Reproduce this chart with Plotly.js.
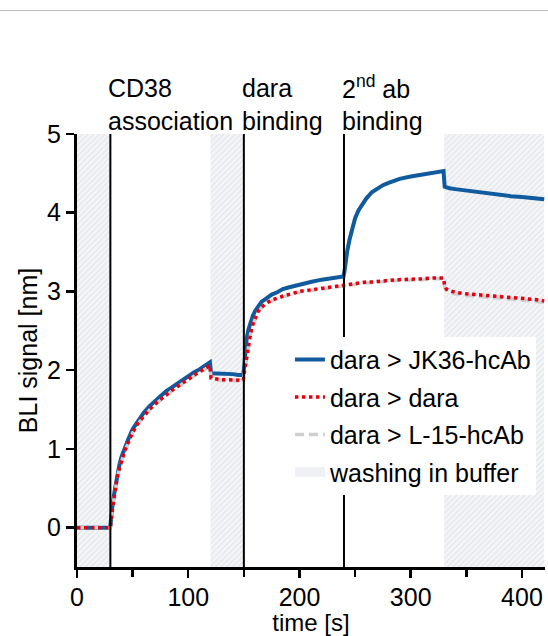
<!DOCTYPE html>
<html>
<head>
<meta charset="utf-8">
<script src="https://cdn.plot.ly/plotly-3.0.1.min.js"></script>
<style>
  html, body { margin: 0; padding: 0; background: #ffffff; }
  #chart { width: 548px; height: 636px; }
</style>
</head>
<body>
<div id="chart"></div>
<script>
// ---- data ----
const timeS = [0, 10, 20, 29.5, 30, 31, 32, 34, 36, 38, 40, 43, 46, 50, 55, 60, 65, 70, 75, 80, 85, 90, 95, 100, 105, 110, 115, 119.5,
  120.5, 125, 130, 135, 140, 145, 149.5,
  150.5, 151.5, 152.5, 154, 156, 158, 160, 163, 166, 170, 175, 180, 185, 190, 195, 200, 210, 220, 230, 239.5,
  240.5, 241.5, 243, 245, 247.5, 250, 253, 256, 260, 265, 270, 275, 280, 290, 300, 310, 320, 329.5,
  330.5, 332, 335, 340, 350, 360, 370, 380, 390, 400, 410, 420];

const jk36 = [0, 0, 0, 0, 0.02, 0.20, 0.30, 0.48, 0.68, 0.79, 0.90, 1.02, 1.12, 1.25, 1.36, 1.46, 1.54, 1.61, 1.67, 1.73, 1.78, 1.83, 1.88, 1.93, 1.97, 2.01, 2.06, 2.10,
  1.96, 1.96, 1.95, 1.95, 1.95, 1.94, 1.94,
  2.08, 2.28, 2.40, 2.51, 2.61, 2.69, 2.75, 2.82, 2.87, 2.91, 2.96, 2.99, 3.03, 3.05, 3.07, 3.09, 3.12, 3.15, 3.17, 3.19,
  3.26, 3.38, 3.52, 3.66, 3.82, 3.93, 4.03, 4.10, 4.18, 4.26, 4.31, 4.35, 4.38, 4.43, 4.46, 4.48, 4.50, 4.53,
  4.33, 4.32, 4.31, 4.30, 4.28, 4.26, 4.24, 4.22, 4.21, 4.20, 4.18, 4.17];

const daraDara = [0, 0, 0, -0.01, 0.00, 0.15, 0.26, 0.44, 0.63, 0.75, 0.86, 0.98, 1.08, 1.21, 1.33, 1.42, 1.50, 1.57, 1.63, 1.69, 1.74, 1.79, 1.84, 1.89, 1.93, 1.98, 2.02, 2.06,
  1.90, 1.89, 1.88, 1.88, 1.88, 1.87, 1.87,
  1.98, 2.08, 2.16, 2.27, 2.46, 2.58, 2.66, 2.75, 2.80, 2.85, 2.89, 2.92, 2.94, 2.96, 2.98, 3.00, 3.02, 3.04, 3.06, 3.08,
  3.08, 3.09, 3.09, 3.09, 3.10, 3.10, 3.11, 3.11, 3.12, 3.12, 3.13, 3.13, 3.14, 3.15, 3.15, 3.16, 3.17, 3.17,
  3.07, 3.03, 3.01, 2.99, 2.97, 2.96, 2.95, 2.94, 2.92, 2.91, 2.90, 2.88];

const daraL15 = [0, 0, 0, -0.01, 0.00, 0.15, 0.25, 0.43, 0.62, 0.74, 0.85, 0.97, 1.07, 1.20, 1.32, 1.41, 1.49, 1.56, 1.62, 1.68, 1.73, 1.78, 1.83, 1.88, 1.92, 1.97, 2.01, 2.05,
  1.89, 1.88, 1.87, 1.87, 1.87, 1.86, 1.86,
  1.97, 2.07, 2.15, 2.26, 2.45, 2.57, 2.65, 2.74, 2.79, 2.84, 2.88, 2.91, 2.93, 2.95, 2.97, 2.99, 3.01, 3.03, 3.05, 3.07,
  3.07, 3.08, 3.08, 3.08, 3.09, 3.09, 3.10, 3.10, 3.11, 3.11, 3.12, 3.12, 3.13, 3.14, 3.14, 3.15, 3.16, 3.16,
  3.05, 3.01, 2.99, 2.97, 2.95, 2.94, 2.93, 2.92, 2.90, 2.89, 2.88, 2.86];

const washStart = [0, 120, 330];
const washEnd = [30, 150, 420];

const phaseLines = [30, 150, 240];
const phaseLabels = ['CD38<br>association', 'dara<br>binding', '2<sup>nd</sup> ab<br>binding'];

const seriesNames = ['dara > JK36-hcAb', 'dara > dara', 'dara > L-15-hcAb', 'washing in buffer'];

const xTicks = [0, 100, 200, 300, 400];
const yTicks = [0, 1, 2, 3, 4, 5];
const xRange = [0, 420.7];
const yRange = [-0.5, 5];

// ---- figure ----
const FONT = 'Liberation Sans, Arial, Helvetica, sans-serif';
const FS = 25;
const washColor = '#eef0f3';

const traces = [
  {
    type: 'bar',
    x: washStart,
    width: washStart.map((s, i) => washEnd[i] - s),
    offset: 0,
    base: yRange[0],
    y: washStart.map(() => yRange[1] - yRange[0]),
    marker: {
      color: '#f3f4f7',
      line: { width: 0 },
      pattern: { shape: '/', bgcolor: '#f4f5f7', fgcolor: '#e2e5ea', size: 4, solidity: 0.3 }
    },
    showlegend: false,
    hoverinfo: 'skip'
  },
  {
    type: 'scatter', mode: 'lines', name: seriesNames[0], legendgroup: 'a', legendrank: 1,
    x: timeS, y: jk36,
    line: { color: '#105a9e', width: 4 }
  },
  {
    type: 'scatter', mode: 'lines', name: seriesNames[2], legendgroup: 'c', legendrank: 3,
    x: timeS, y: daraL15,
    line: { color: '#cfcfcf', width: 3.5, dash: '9px,5px' }
  },
  {
    type: 'scatter', mode: 'lines', name: seriesNames[1], legendgroup: 'b', legendrank: 2,
    x: timeS, y: daraDara,
    line: { color: '#e3000f', width: 3.5, dash: '3.5px,3.5px' }
  },
  {
    type: 'scatter', mode: 'lines', name: seriesNames[3], legendgroup: 'd', legendrank: 4,
    x: [null], y: [null],
    line: { color: washColor, width: 22 },
    hoverinfo: 'skip'
  }
];

const shapes = phaseLines.map(x => ({
  type: 'line', xref: 'x', yref: 'paper', x0: x, x1: x, y0: 0, y1: 1,
  line: { color: '#000000', width: 2 }
}));
shapes.push({
  type: 'line', xref: 'paper', yref: 'paper', x0: -0.17, x1: 1.01, y0: 1.2852, y1: 1.2852,
  line: { color: '#bdbdbd', width: 1.2 }
});

const annotations = phaseLines.map((x, i) => ({
  x: x, y: 1, xref: 'x', yref: 'paper', xanchor: 'left', yanchor: 'bottom',
  xshift: -4, yshift: -3,
  text: phaseLabels[i], showarrow: false, align: 'left',
  font: { family: FONT, size: FS, color: '#000000' }
}));

const axisCommon = {
  showgrid: false, zeroline: false, showline: true, linecolor: '#000000', linewidth: 3,
  ticks: 'outside', ticklen: 8, tickwidth: 2.5, tickcolor: '#000000',
  tickfont: { family: FONT, size: FS, color: '#000000' }
};

const layout = {
  width: 548, height: 636,
  margin: { l: 77, r: 3, t: 134, b: 69 },
  paper_bgcolor: '#ffffff', plot_bgcolor: '#ffffff',
  font: { family: FONT, size: FS, color: '#000000' },
  barmode: 'overlay',
  xaxis: Object.assign({}, axisCommon, {
    range: xRange, tickvals: xTicks, ticktext: xTicks.map(String),
    ticklabelstandoff: -2,
    minor: { dtick: 50, tick0: 0, ticks: 'outside', ticklen: 7, tickwidth: 2.5, tickcolor: '#000000', showgrid: false },
    title: { text: 'time [s]', font: { family: FONT, size: 24, color: '#000000' }, standoff: 5 }
  }),
  yaxis: Object.assign({}, axisCommon, {
    range: yRange, tickvals: yTicks, ticktext: yTicks.map(String),
    title: { text: 'BLI signal [nm]', font: { family: FONT, size: FS, color: '#000000' }, standoff: 3 }
  }),
  legend: {
    x: 0.455, y: 0.532, xanchor: 'left', yanchor: 'top',
    bgcolor: '#ffffff', borderwidth: 0,
    traceorder: 'grouped', tracegroupgap: 2,
    font: { family: FONT, size: FS, color: '#000000' }
  },
  shapes: shapes,
  annotations: annotations,
  showlegend: true
};

Plotly.newPlot('chart', traces, layout, { displayModeBar: false, staticPlot: true });
</script>
</body>
</html>
